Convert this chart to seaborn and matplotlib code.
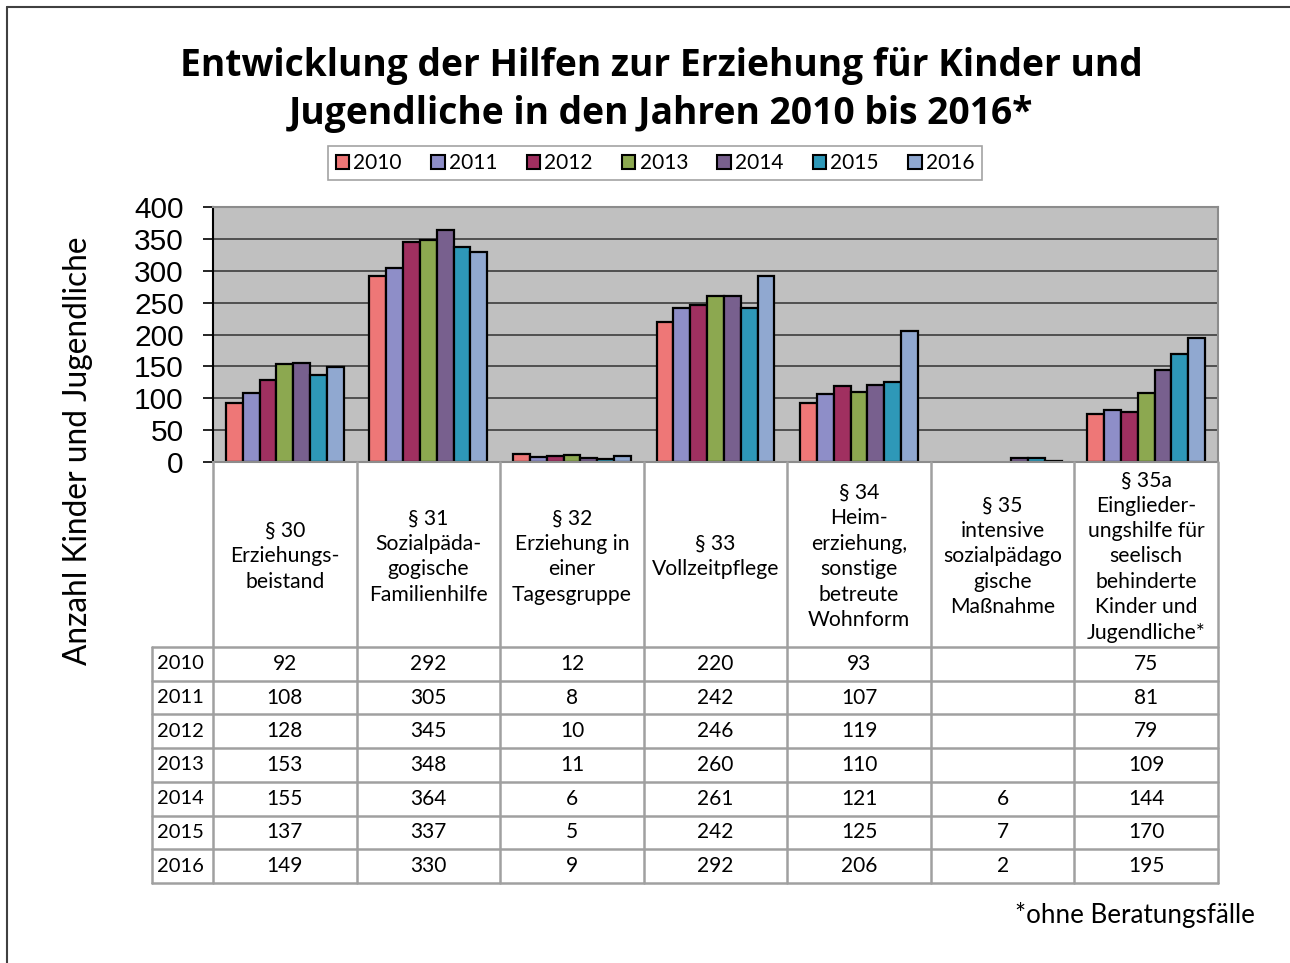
import matplotlib
matplotlib.use("Agg")
import matplotlib.pyplot as plt
from matplotlib.lines import Line2D
import numpy as np
import pandas as pd
import seaborn as sns

# --- data -------------------------------------------------------------
years = ["2010", "2011", "2012", "2013", "2014", "2015", "2016"]

categories = [
    "§ 30\nErziehungs-\nbeistand",
    "§ 31\nSozialpäda-\ngogische\nFamilienhilfe",
    "§ 32\nErziehung in\neiner\nTagesgruppe",
    "§ 33\nVollzeitpflege",
    "§ 34\nHeim-\nerziehung,\nsonstige\nbetreute\nWohnform",
    "§ 35\nintensive\nsozialpädago\ngische\nMaßnahme",
    "§ 35a\nEinglieder-\nungshilfe für\nseelisch\nbehinderte\nKinder und\nJugendliche*",
]

# one list per category, values for 2010..2016 (None = no value)
par30 = [92, 108, 128, 153, 155, 137, 149]
par31 = [292, 305, 345, 348, 364, 337, 330]
par32 = [12, 8, 10, 11, 6, 5, 9]
par33 = [220, 242, 246, 260, 261, 242, 292]
par34 = [93, 107, 119, 110, 121, 125, 206]
par35 = [None, None, None, None, 6, 7, 2]
par35a = [75, 81, 79, 109, 144, 170, 195]

year_colors = ["#EE7777", "#8E8EC8", "#A03060", "#8CA850",
               "#78608E", "#2E98B8", "#90A8D0"]

title = "Entwicklung der Hilfen zur Erziehung für Kinder und\nJugendliche in den Jahren 2010 bis 2016*"
ylabel = "Anzahl Kinder und Jugendliche"
footnote = "*ohne Beratungsfälle"

# --- long table for seaborn ------------------------------------------
series = [par30, par31, par32, par33, par34, par35, par35a]
rows = []
for cat, vals in zip(categories, series):
    for yr, v in zip(years, vals):
        rows.append({"Kategorie": cat, "Jahr": yr, "Anzahl": v})
df = pd.DataFrame(rows)
df_bars = df.dropna(subset=["Anzahl"])

W, H = 1290, 963
sns.set_theme(style="white")
plt.rcParams["font.family"] = ["Lato", "DejaVu Sans"]
plt.rcParams["text.color"] = "black"

fig = plt.figure(figsize=(W / 100, H / 100), dpi=100)


def fx(px):
    return px / W


def fy(py):
    return 1 - py / H


# plot area in pixels
left, right, top, bottom = 213, 1218, 207, 462
ax = fig.add_axes([fx(left), fy(bottom), fx(right - left), (bottom - top) / H])
ax.set_facecolor("#C0C0C0")

sns.barplot(
    data=df_bars, x="Kategorie", y="Anzahl", hue="Jahr",
    order=categories, hue_order=years, palette=year_colors,
    width=0.82, edgecolor="black", linewidth=1.6, saturation=1,
    errorbar=None, ax=ax,
)

handles, labels = ax.get_legend_handles_labels()
ax.get_legend().remove()

ax.set_xlim(-0.5, len(categories) - 0.5)
ax.set_ylim(0, 400)
ax.set_yticks(np.arange(0, 401, 50))
ax.yaxis.grid(True, color="#3C3C3C", linewidth=1.2)
ax.set_axisbelow(True)
ax.set_xticks([])
ax.set_xlabel("")
ax.set_ylabel("")
ax.tick_params(axis="y", direction="out", length=7, width=1.2, pad=14,
               left=True, labelsize=21.5, colors="black")
for lab in ax.get_yticklabels():
    lab.set_fontfamily("Liberation Sans")
for side in ["top", "right"]:
    ax.spines[side].set_color("#8C8C8C")
    ax.spines[side].set_linewidth(1.5)
ax.spines["left"].set_color("black")
ax.spines["left"].set_linewidth(1.5)
ax.spines["bottom"].set_color("#8C8C8C")
ax.spines["bottom"].set_linewidth(1.5)

# --- data table below the plot ---------------------------------------
grid_col = "#A0A0A0"
col_w = (right - left) / len(categories)
label_left = 152
head_bottom = 647
row_h = (883 - head_bottom) / len(years)
table_bottom = head_bottom + row_h * len(years)

for i in range(len(categories) + 1):
    x = left + i * col_w
    fig.add_artist(Line2D([fx(x), fx(x)], [fy(bottom), fy(table_bottom)],
                          color=grid_col, lw=1.8))
fig.add_artist(Line2D([fx(label_left), fx(label_left)],
                      [fy(head_bottom), fy(table_bottom)], color=grid_col, lw=1.8))
for k in range(len(years) + 1):
    y = head_bottom + k * row_h
    fig.add_artist(Line2D([fx(label_left), fx(right)], [fy(y), fy(y)],
                          color=grid_col, lw=1.8))

head_mid = (bottom + head_bottom) / 2
for i, cat in enumerate(categories):
    cx = left + (i + 0.5) * col_w
    fig.text(fx(cx), fy(head_mid + 2), cat, ha="center", va="center",
             fontsize=15.2, linespacing=1.34, color="black")

for k, yr in enumerate(years):
    cy = head_bottom + (k + 0.5) * row_h
    fig.text(fx(label_left + 5), fy(cy), yr, ha="left", va="center",
             fontsize=14.5, color="black")
    for i, vals in enumerate(series):
        v = vals[k]
        if v is None:
            continue
        cx = left + (i + 0.5) * col_w
        fig.text(fx(cx), fy(cy), str(v), ha="center", va="center",
                 fontsize=15, color="black")

# --- titles, labels, legend -------------------------------------------
fig.text(fx(661), fy(90), title, ha="center", va="center",
         fontsize=26.8, fontweight="bold", linespacing=1.36,
         family=["Open Sans", "DejaVu Sans"], color="black")
fig.text(fx(78), fy(451), ylabel, ha="center", va="center",
         rotation=90, fontsize=22.8, color="black")
fig.text(fx(1255), fy(915), footnote, ha="right", va="center",
         fontsize=18.7, color="black")

leg = fig.legend(
    handles, labels, loc="center", bbox_to_anchor=(fx(655), fy(163)),
    ncol=len(years), frameon=True, fancybox=False, fontsize=15,
    handlelength=0.65, handleheight=0.65, handletextpad=0.2,
    columnspacing=1.4, borderpad=0.35, labelcolor="black",
)
leg.get_frame().set_edgecolor("#8C8C8C")
leg.get_frame().set_linewidth(1.2)
for h in leg.legend_handles:
    h.set_edgecolor("black")
    h.set_linewidth(1.5)

# outer frame lines (top and left)
fig.add_artist(Line2D([fx(7), 1], [fy(7), fy(7)], color="#404040", lw=1.5))
fig.add_artist(Line2D([fx(7), fx(7)], [fy(7), 0], color="#404040", lw=1.5))

fig.savefig("out.png", dpi=100, facecolor="white")
